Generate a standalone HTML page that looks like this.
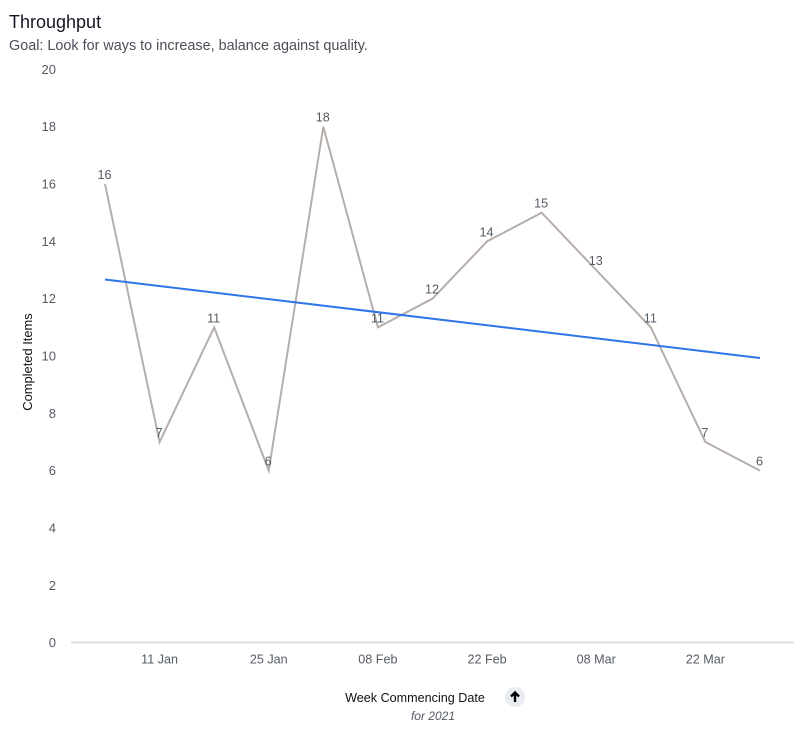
<!DOCTYPE html>
<html>
<head>
<meta charset="utf-8">
<style>
html,body{margin:0;padding:0;background:#fff;width:804px;height:729px;overflow:hidden}
body{font-family:"Liberation Sans",sans-serif;position:relative}
#chart-title{position:absolute;left:9px;top:11px;font-size:18px;line-height:22px;color:#1a1523;white-space:nowrap}
#chart-subtitle{position:absolute;left:9px;top:37px;font-size:14.4px;line-height:18px;color:#4a4f57;white-space:nowrap}
svg{position:absolute;left:0;top:0}
</style>
</head>
<body>
<div id="chart-title">Throughput</div>
<div id="chart-subtitle">Goal: Look for ways to increase, balance against quality.</div>
<svg id="chart" width="804" height="729" viewBox="0 0 804 729"></svg>
<script>
const categories = ['04 Jan','11 Jan','18 Jan','25 Jan','01 Feb','08 Feb','15 Feb','22 Feb','01 Mar','08 Mar','15 Mar','22 Mar','29 Mar'];
const completedItems = [16,7,11,6,18,11,12,14,15,13,11,7,6];
const trendValues = [12.67,9.93];
const yTicks = [0,2,4,6,8,10,12,14,16,18,20];
const xTickLabels = ['11 Jan','25 Jan','08 Feb','22 Feb','08 Mar','22 Mar'];

const svg = document.getElementById('chart');
const NS = 'http://www.w3.org/2000/svg';
const yScale = v => 642.6 - v * 28.66;
const xScale = i => 105 + i * 54.58;

function make(tag, attrs, text) {
  const el = document.createElementNS(NS, tag);
  for (const k in attrs) el.setAttribute(k, attrs[k]);
  if (text !== undefined) el.textContent = text;
  svg.appendChild(el);
  return el;
}

const axisLine = make('line', {x1:71, x2:794, y1:642.5, y2:642.5, stroke:'#dfdfdf', 'stroke-width':2});



yTicks.forEach(t => {
  const label = make('text', {x:56, y:yScale(t) + 4.5, 'text-anchor':'end', 'font-size':13, fill:'#555b63'}, String(t));
  
  
});

xTickLabels.forEach(t => {
  const label = make('text', {x:xScale(categories.indexOf(t)), y:663.5, 'text-anchor':'middle', 'font-size':12.6, fill:'#555b63'}, t);
  
  
});

const seriesPoints = completedItems.map((v, i) => xScale(i) + ',' + yScale(v)).join(' ');
const seriesLine = make('polyline', {points:seriesPoints, fill:'none', stroke:'#b6aeab', 'stroke-width':2, 'stroke-linejoin':'miter'});



const trendLine = make('line', {
  x1:xScale(0), y1:yScale(trendValues[0]),
  x2:xScale(categories.length - 1), y2:yScale(trendValues[1]),
  stroke:'#2f74e8', 'stroke-width':2
});



completedItems.forEach((v, i) => {
  const label = make('text', {x:xScale(i) - 0.5, y:yScale(v) - 5, 'text-anchor':'middle', 'font-size':12.6, fill:'#555b63'}, String(v));
  
  
});

const yTitle = make('text', {x:0, y:0, transform:'translate(32,362) rotate(-90)', 'text-anchor':'middle', 'font-size':12.9, fill:'#111'}, 'Completed Items');



const xTitle = make('text', {x:415, y:702, 'text-anchor':'middle', 'font-size':12.6, fill:'#111'}, 'Week Commencing Date');



const xSubtitle = make('text', {x:433, y:720, 'text-anchor':'middle', 'font-size':12, 'font-style':'italic', fill:'#555b63'}, 'for 2021');



const sortButton = make('circle', {cx:515, cy:697, r:10, fill:'#e9ecf1', cursor:'pointer'});



const sortArrow = make('path', {d:'M515 702 V692.5 M511 696.5 L515 692.5 L519 696.5', fill:'none', stroke:'#000', 'stroke-width':2.4});


</script>
</body>
</html>
